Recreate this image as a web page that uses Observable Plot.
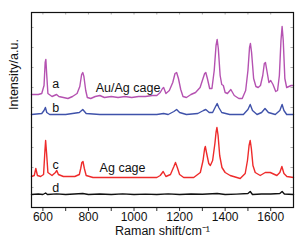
<!DOCTYPE html>
<html>
<head>
<meta charset="utf-8">
<script src="https://cdn.jsdelivr.net/npm/d3@7"></script>
<script src="https://cdn.jsdelivr.net/npm/@observablehq/plot@0.6"></script>
<style>
  html, body { margin: 0; padding: 0; background: #fff; }
  svg { display: block; }
</style>
</head>
<body>
<div id="chart"></div>
<script>
// ---- data ----
const shiftA = [550,580,595,605,610,613,617,622,640,660,670,690,710,730,750,762,770,775,780,788,795,810,830,850,870,900,930,960,990,1020,1050,1080,1100,1115,1125,1130,1140,1155,1170,1180,1187,1195,1205,1215,1230,1250,1270,1290,1300,1310,1315,1322,1332,1342,1352,1360,1365,1370,1378,1385,1392,1400,1410,1425,1440,1460,1475,1490,1500,1507,1511,1516,1525,1535,1545,1555,1565,1572,1577,1583,1592,1600,1610,1622,1630,1638,1645,1650,1655,1662,1670,1680,1690,1700];
const intA = [113,113,114,122,145,148,132,114,111,113,111,110,109,111,114,121,133,135,131,117,110,109,111,112,110,111,110,111,110,111,111,112,112,115,119,120,114,117,125,134,135,129,118,111,110,113,115,120,127,134,135,129,119,119,137,162,168,159,132,123,122,115,114,118,112,109,109,117,137,160,164,155,129,121,120,122,132,144,145,137,125,127,123,116,117,132,167,181,167,129,120,121,122,122];

const shiftB = [550,595,605,611,617,630,700,760,775,790,850,1000,1100,1130,1150,1175,1187,1200,1230,1280,1305,1315,1330,1345,1358,1365,1372,1385,1420,1480,1500,1510,1520,1540,1560,1575,1590,1620,1640,1650,1658,1670,1700];
const intB = [93,94,97,100,95,93,93,95,98,94,93,93,93,94,93,96,98,95,93,94,97,98,95,95,101,104,100,95,93,93,98,103,97,93,95,99,95,93,97,103,97,93,93];

const shiftC = [550,562,569,576,590,603,609,612,616,622,640,655,661,668,690,740,760,766,771,776,782,790,820,900,1000,1073,1100,1115,1128,1140,1160,1175,1182,1190,1200,1218,1262,1291,1303,1310,1313,1318,1328,1335,1345,1355,1360,1364,1369,1376,1386,1400,1422,1466,1488,1498,1505,1510,1515,1522,1532,1554,1576,1598,1627,1640,1649,1658,1671,1700];
const intC = [31,32,39,32,31,33,57,67,55,35,32,35,37,33,31,31,33,39,45,46,39,32,30,30,30,30,30,32,36,31,33,41,45,40,33,30,30,35,47,59,61,55,44,42,47,64,75,80,72,52,40,35,32,29,34,47,62,67,59,42,35,32,35,35,32,35,41,34,31,30];

const shiftD = [550,580,600,612,620,660,700,775,800,850,900,950,1000,1050,1100,1150,1200,1250,1300,1365,1400,1450,1500,1510,1520,1560,1600,1640,1650,1660,1700];
const intD = [13,13.5,13,14.5,13,13.6,13,14,13,13.5,13,13.6,13,13.4,13,13.6,13,13.5,13.2,14,13,13.4,14,16,13,13.5,13.5,14,16,13.5,13];

const seriesNames = ["a","b","c","d"];
const seriesColors = ["#b552b1","#3f52aa","#ee2b2b","#111111"];
const labelShift = [656,656,656,656];
const labelInt = [124,100,43,20];

const noteText = ["Au/Ag cage","Ag cage"];
const noteShift = [832,849];
const noteInt = [120,40];

const xTicks = [600,800,1000,1200,1400,1600];
const xMinorTicks = [700,900,1100,1300,1500];
const yTicks = [20,40,60,80,100,120,140,160,180];

// ---- build tables ----
const pack = (xs, ys, s) => xs.map((x, i) => ({x, y: ys[i], s}));
const lines = [
  ...pack(shiftA, intA, "a"),
  ...pack(shiftB, intB, "b"),
  ...pack(shiftC, intC, "c"),
  ...pack(shiftD, intD, "d")
];
const labels = seriesNames.map((n, i) => ({n, x: labelShift[i], y: labelInt[i]}));
const notes = noteText.map((t, i) => ({t, x: noteShift[i], y: noteInt[i]}));

const font = "'Liberation Sans', Arial, sans-serif";

const chart = Plot.plot({
  width: 304,
  height: 246,
  marginLeft: 31,
  marginRight: 11,
  marginTop: 12,
  marginBottom: 39,
  style: {fontFamily: font, fontSize: "12px", color: "#111", background: "#fff"},
  x: {domain: [550, 1700]},
  y: {domain: [0, 195]},
  color: {domain: seriesNames, range: seriesColors},
  marks: [
    Plot.line(lines, {x: "x", y: "y", z: "s", stroke: "s", strokeWidth: 1.4}),
    Plot.text(labels, {x: "x", y: "y", text: "n", fontSize: 12.5, fill: "#111"}),
    Plot.text(notes, {x: "x", y: "y", text: "t", textAnchor: "start", fontSize: 12.5, fill: "#111"}),
    Plot.axisX({ticks: xTicks, tickSize: 4, tickPadding: 1, tickFormat: d3.format("d"), fontSize: 12, label: null, stroke: "#333"}),
    Plot.axisX({ticks: xMinorTicks, tickSize: 4, tickFormat: () => "", label: null, stroke: "#333"}),
    Plot.ruleX([...xTicks, ...xMinorTicks], {y1: 195, y2: 192.5, stroke: "#999", strokeWidth: 0.8}),
    Plot.ruleY(yTicks, {x1: 550, x2: 561, stroke: "#999", strokeWidth: 0.8}),
    Plot.ruleY(yTicks, {x1: 1689, x2: 1700, stroke: "#999", strokeWidth: 0.8}),
    Plot.axisY({ticks: [], label: null}),
    Plot.frame({stroke: "#111", strokeWidth: 1.2}),
    Plot.text(["Raman shift/cm⁻¹"], {frameAnchor: "bottom", dy: 27, fontSize: 12.5, fill: "#111"}),
    Plot.text(["Intensity/a.u."], {frameAnchor: "left", dx: -18, rotate: -90, fontSize: 12.5, fill: "#111"})
  ]
});
document.getElementById("chart").appendChild(chart);
</script>
</body>
</html>
